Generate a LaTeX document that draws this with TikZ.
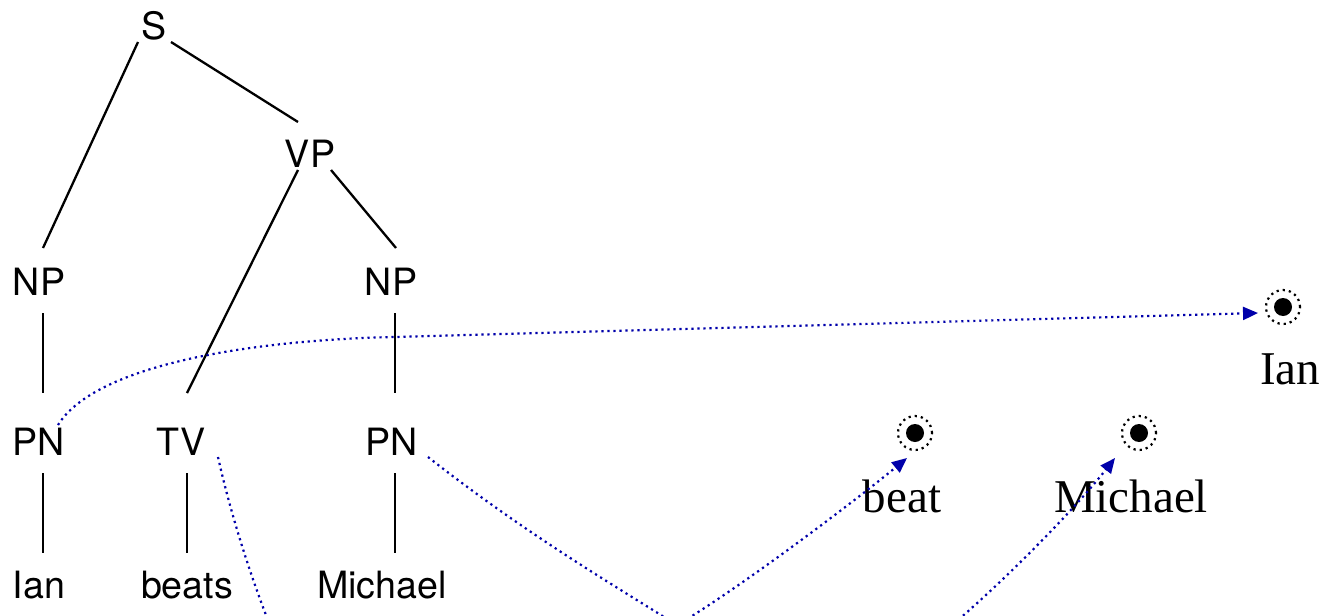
\documentclass[tikz,border=0pt]{standalone}
\usepackage{fontspec}
\setmainfont{Liberation Serif}
\newfontfamily\treefont{TeX Gyre Heros}
\usetikzlibrary{arrows.meta}
\definecolor{linkblue}{RGB}{0,0,170}
\begin{document}
\begin{tikzpicture}[x=0.5pt,y=-0.5pt,
  cat/.style={anchor=base, inner sep=0pt, font=\treefont\fontsize{18.8}{22}\selectfont},
  entity/.style={anchor=base, inner sep=0pt, font=\fontsize{23.5}{28}\selectfont},
  branch/.style={line width=1.15pt},
  link/.style={draw=linkblue, line width=1.1pt, dash pattern=on 1.1pt off 1.9pt},
  linkarrow/.style={link, -{Triangle[length=7.5pt,width=6.5pt]}},
  ring/.style={circle, draw, line width=1.1pt, dash pattern=on 1.1pt off 2pt, minimum size=17pt, inner sep=0pt},
  dot/.style={circle, fill, minimum size=9pt, inner sep=0pt}]
\useasboundingbox (0,0) rectangle (1325,615);
\clip (0,0) rectangle (1325,615);

% syntax tree labels
\node[cat] (S) at (154,40) {S};
\node[cat] (VP) at (310,167) {VP};
\node[cat] (NPl) at (39,295) {NP};
\node[cat] (NPr) at (391,295) {NP};
\node[cat] (PNl) at (39,455) {PN};
\node[cat] (TV) at (181,455) {TV};
\node[cat] (PNr) at (392,455) {PN};
\node[cat] (wIan) at (39,598) {Ian};
\node[cat] (wBeats) at (187,598) {beats};
\node[cat] (wMichael) at (382,598) {Michael};

% branches
\draw[branch] ([shift={(-16,2)}]S.base) -- ([shift={(4,-47)}]NPl.base);
\draw[branch] ([shift={(17,2)}]S.base) -- ([shift={(-12,-45)}]VP.base);
\draw[branch] ([shift={(-12,3)}]VP.base) -- ([shift={(6,-62)}]TV.base);
\draw[branch] ([shift={(21,3)}]VP.base) -- ([shift={(5,-47)}]NPr.base);
\draw[branch] ([shift={(4,18)}]NPl.base) -- ([shift={(4,-62)}]PNl.base);
\draw[branch] ([shift={(4,18)}]NPr.base) -- ([shift={(3,-62)}]PNr.base);
\draw[branch] ([shift={(4,18)}]PNl.base) -- ([shift={(4,-45)}]wIan.base);
\draw[branch] ([shift={(6,18)}]TV.base) -- ([shift={(0,-45)}]wBeats.base);
\draw[branch] ([shift={(3,18)}]PNr.base) -- ([shift={(13,-45)}]wMichael.base);

% model entities
\node[dot] (eIan) at (1283,307) {};
\node[ring] (rIan) at (eIan) {};
\node[entity] (lIan) at (1290,384) {Ian};
\node[dot] (eBeat) at (915,433) {};
\node[ring] (rBeat) at (eBeat) {};
\node[entity] (lBeat) at (902,512) {beat};
\node[dot] (eMich) at (1139,433) {};
\node[ring] (rMich) at (eMich) {};
\node[entity] (lMich) at (1131,512) {Michael};

% interpretation links
\coordinate (tvLow) at (276,640);
\coordinate (pnLow) at (700,640);
\coordinate (beatLow) at (672,628);
\coordinate (michLow) at (940,635);
\draw[linkarrow] ([shift={(19,-30)}]PNl.base) .. controls (95,365) and (250,340) .. (395,337)
  -- ([shift={(-25,6)}]eIan.center);
\draw[link] ([shift={(37,2)}]TV.base) .. controls (232,520) and (255,590) .. (tvLow);
\draw[link] ([shift={(36,2)}]PNr.base) .. controls (540,545) and (640,600) .. (pnLow);
\draw[linkarrow] (beatLow) .. controls (730,595) and (850,505) .. ([shift={(-8,25)}]eBeat.center);
\draw[linkarrow] (michLow) .. controls (990,595) and (1070,515) .. ([shift={(-24,25)}]eMich.center);
\end{tikzpicture}
\end{document}
